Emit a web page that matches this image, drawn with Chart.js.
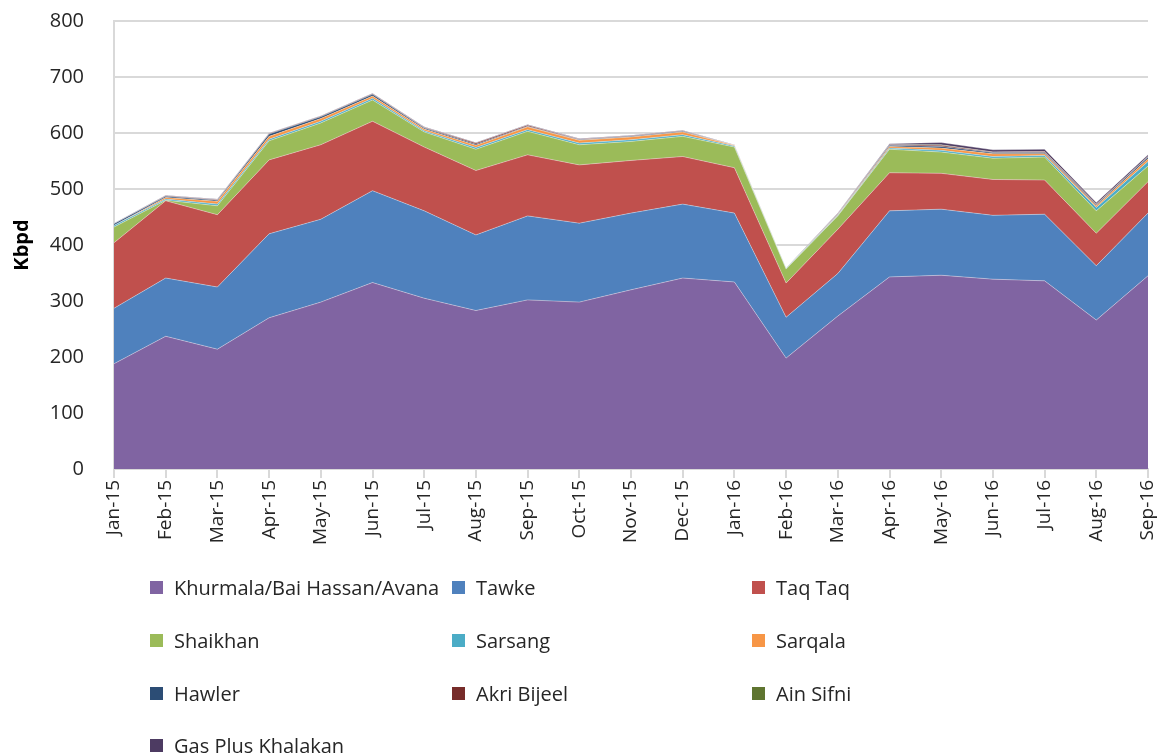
<!DOCTYPE html>
<html>
<head>
<meta charset="utf-8">
<script src="https://cdn.jsdelivr.net/npm/chart.js@4.4.1/dist/chart.umd.min.js"></script>
<style>
  html, body { margin: 0; padding: 0; background: #fff; }
  #wrap { position: relative; width: 1168px; height: 756px; overflow: hidden; }
  #cv { position: absolute; left: 0; top: 0; }
  #legend { position: absolute; left: 0; top: 0; width: 1168px; height: 756px; pointer-events: none;
    font-family: "Open Sans", "Noto Sans", sans-serif; font-size: 20px; color: #262626; }
  .li { position: absolute; display: flex; align-items: center; white-space: nowrap; }
  .sw { width: 13px; height: 13px; margin-right: 11px; }
</style>
</head>
<body>
<div id="wrap">
  <canvas id="cv" width="1168" height="560" style="width:1168px;height:560px"></canvas>
  <div id="legend"></div>
</div>
<script>
const months = ["Jan-15","Feb-15","Mar-15","Apr-15","May-15","Jun-15","Jul-15","Aug-15","Sep-15","Oct-15","Nov-15","Dec-15","Jan-16","Feb-16","Mar-16","Apr-16","May-16","Jun-16","Jul-16","Aug-16","Sep-16"];
const khurmala  = [188,237,214,270,298,333,305,283,302,298,320,341,334,198,273,343,346,339,336,266,345];
const tawke     = [99,104,111,150,148,164,156,135,150,141,137,132,123,73,76,118,118,114,119,97,112];
const taqtaq    = [117,138,129,132,133,124,114,115,109,104,94,85,81,61,79,68,64,64,61,58,56];
const shaikhan  = [28,1,16,34,39,38,27,38,42,36,34,36,37,25,24,42,38,38,41,40,28];
const sarsang   = [3,2,3,3,3,3,2,3,3,3,3,3,2,1,1,2,3,3,3,6,8];
const sarqala   = [0,3,5,5,5,4,3,4,5,5,5,5,1,0,1,3,4,5,3,3,5];
const hawler    = [3,2,2,4,3,3,2,2,1,1,1,1,0,0,1,2,3,2,2,2,3];
const akriBijeel= [0,1,1,1,1,1,1,2,2,1,1,1,0,0,1,1,2,1,2,1,1];
const ainSifni  = [0,0,0,0,0,0,0,0,0,0,0,0,0,0,0,0,1,0,0,0,0];
const gasPlus   = [1,1,1,1,1,1,1,1,1,1,1,1,1,1,1,2,4,4,4,3,3];
const yTicks    = [0,100,200,300,400,500,600,700,800];

const seriesNames = ["Khurmala/Bai Hassan/Avana","Tawke","Taq Taq","Shaikhan","Sarsang","Sarqala","Hawler","Akri Bijeel","Ain Sifni","Gas Plus Khalakan"];
const seriesData  = [khurmala,tawke,taqtaq,shaikhan,sarsang,sarqala,hawler,akriBijeel,ainSifni,gasPlus];
const seriesColors= ["#8064A2","#4F81BD","#C0504D","#9BBB59","#4BACC6","#F79646","#2C4D75","#772C2A","#5F7530","#4D3B62"];

const datasets = seriesNames.map((n,i)=>({
  label: n,
  data: seriesData[i],
  backgroundColor: seriesColors[i],
  borderColor: "rgba(255,255,255,0.35)",
  borderWidth: 1,
  pointRadius: 0,
  tension: 0,
  fill: i === 0 ? "origin" : "-1"
}));

const FONT = "'Open Sans', 'Noto Sans', sans-serif";

new Chart(document.getElementById("cv"), {
  type: "line",
  data: { labels: months, datasets },
  options: {
    responsive: false,
    animation: false,
    layout: { padding: { top: 21, right: 20, left: 0, bottom: 0 } },
    plugins: { legend: { display: false }, tooltip: { enabled: false } },
    scales: {
      x: {
        offset: false,
        grid: { display: true, drawOnChartArea: false, drawTicks: true, tickLength: 9, color: "#D9D9D9", lineWidth: 2 },
        border: { display: true, color: "#D9D9D9", width: 2 },
        ticks: { minRotation: 90, maxRotation: 90, autoSkip: false, padding: 2, color: "#262626", font: { family: FONT, size: 19 } },
        afterFit: s => { s.height = 91; s.paddingLeft = 0; s.paddingRight = 0; }
      },
      y: {
        stacked: true,
        min: 0, max: 800,
        afterBuildTicks: s => { s.ticks = yTicks.map(v => ({ value: v })); },
        grid: { color: "#D9D9D9", lineWidth: 2, drawTicks: false },
        border: { display: true, color: "#D9D9D9", width: 2 },
        ticks: { padding: 30, color: "#262626", font: { family: FONT, size: 20 } },
        title: { display: true, text: "Kbpd", color: "#000", padding: { top: 10, bottom: 0 }, font: { family: FONT, size: 20, weight: "bold" } },
        afterFit: s => { s.width = 114; s.paddingTop = 10; s.paddingBottom = 10; }
      }
    }
  }
});

// HTML legend built from series names / colours
const legend = document.getElementById("legend");
const colX = [150, 452, 752];
const rowY = [587, 640, 693, 745];
seriesNames.forEach((n,i)=>{
  const d = document.createElement("div");
  d.className = "li";
  d.style.left = colX[i % 3] + "px";
  d.style.top = (rowY[Math.floor(i / 3)] - 14) + "px";
  d.style.height = "28px";
  const sw = document.createElement("span");
  sw.className = "sw";
  sw.style.background = seriesColors[i];
  const t = document.createElement("span");
  t.textContent = n;
  d.appendChild(sw); d.appendChild(t);
  legend.appendChild(d);
});
</script>
</body>
</html>
